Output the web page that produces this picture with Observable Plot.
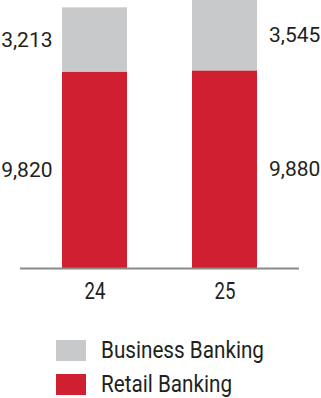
<!DOCTYPE html>
<html>
<head>
<meta charset="utf-8">
<script src="https://cdn.jsdelivr.net/npm/d3@7"></script>
<script src="https://cdn.jsdelivr.net/npm/@observablehq/plot@0.6"></script>
<style>
  html, body { margin: 0; padding: 0; background: #fff; }
  body { width: 321px; height: 398px; overflow: hidden; font-family: Roboto, sans-serif; color: #231f20; }
  #chart svg { display: block; }
  .legend { position: relative; height: 88px; }
  .row { position: absolute; left: 56px; display: flex; align-items: center; font-family: Roboto, sans-serif; font-size: 23.5px; line-height: 1; white-space: nowrap; }
  .row span { display: inline-block; transform: scaleX(0.88); transform-origin: left center; }
  .sw { width: 30px; height: 21px; margin-right: 15px; flex: none; }
</style>
</head>
<body>
<div id="chart"></div>
<div class="legend" id="legend"></div>
<script>
const years = ["24", "25"];
const series = ["Retail Banking", "Business Banking"];
const retail = [9820, 9880];
const business = [3213, 3545];
const colors = ["#d01f31", "#c8c9cb"];

const data = [];
years.forEach((y, i) => {
  data.push({year: y, series: series[0], value: retail[i]});
  data.push({year: y, series: series[1], value: business[i]});
});

const fmt = d3.format(",");

const chart = Plot.plot({
  width: 321,
  height: 310,
  marginTop: 0,
  marginBottom: 42,
  marginLeft: 29.5,
  marginRight: 31.5,
  style: {fontFamily: "Roboto, sans-serif", fontSize: "21px", color: "#231f20", background: "#fff"},
  x: {domain: years, paddingInner: 0.5, paddingOuter: 0.25, label: null},
  y: {domain: [0, 13400], axis: null},
  color: {domain: series, range: colors},
  marks: [
    Plot.barY(data, {x: "year", y: "value", fill: "series", order: series}),
    Plot.ruleY([0], {stroke: "#8a8a8a", strokeWidth: 2, insetLeft: -9.5, insetRight: -9.5}),
    Plot.text(data.filter(d => d.year === years[0]), Plot.stackY({x: "year", y: "value", z: "series", order: series, text: d => fmt(d.value), textAnchor: "end", dx: -42.5, fill: "#231f20", fontSize: 21})),
    Plot.text(data.filter(d => d.year === years[1]), Plot.stackY({x: "year", y: "value", z: "series", order: series, text: d => fmt(d.value), textAnchor: "start", dx: 44, fill: "#231f20", fontSize: 21})),
    Plot.axisX({tickSize: 0, tickPadding: 13, fontSize: 24.5, label: null, fill: "#231f20"})
  ]
});
// slightly condense the tick labels, as in the reference typeface
d3.select(chart).selectAll("g[aria-label='x-axis tick label'] text").each(function() {
  const t = this.getAttribute("transform") || "";
  this.setAttribute("transform", t + " scale(0.76,1)");
});
document.getElementById("chart").appendChild(chart);

const legend = document.getElementById("legend");
const legendItems = [series[1], series[0]];
legendItems.forEach((s, i) => {
  const row = document.createElement("div");
  row.className = "row";
  row.style.top = (29 + i * 34) + "px";
  const sw = document.createElement("div");
  sw.className = "sw";
  sw.style.background = colors[series.indexOf(s)];
  const label = document.createElement("span");
  label.textContent = s;
  row.appendChild(sw);
  row.appendChild(label);
  legend.appendChild(row);
});
</script>
</body>
</html>
